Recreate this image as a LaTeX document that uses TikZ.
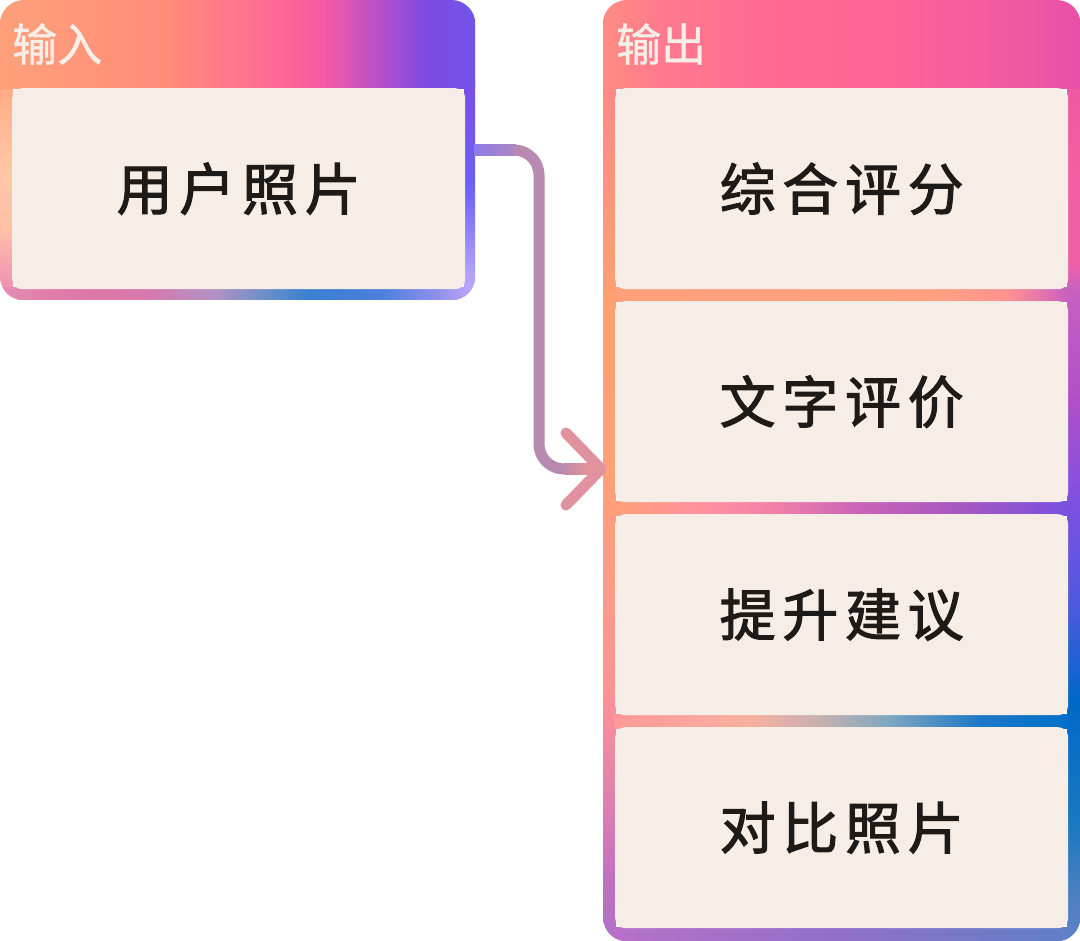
\documentclass[tikz,border=0pt]{standalone}
\usepackage{fontspec}
\usetikzlibrary{calc}
\newfontfamily\cjk[FakeBold=1]{Noto Sans CJK SC}
\newfontfamily\cjkbig[LetterSpace=12,FakeBold=2]{Noto Sans CJK SC}
% colours
\definecolor{boxc}{HTML}{F6EDE6}
\definecolor{ink}{HTML}{1E1A18}
\definecolor{hdrc}{HTML}{F8EEE8}
\definecolor{ar0}{HTML}{8E7AE8}
\definecolor{ar1}{HTML}{AE88C2}
\definecolor{ar2}{HTML}{B88AB2}
\definecolor{ar3}{HTML}{BE8AAE}
\definecolor{ar4}{HTML}{F69C86}
\definecolor{ar5}{HTML}{E0929E}
% left header
\definecolor{lhA}{HTML}{FFA07A}\definecolor{lhB}{HTML}{FF8C7A}\definecolor{lhC}{HTML}{FF6E92}
\definecolor{lhD}{HTML}{F65AA2}\definecolor{lhE}{HTML}{B650CC}\definecolor{lhF}{HTML}{7C4AE2}\definecolor{lhG}{HTML}{7254EA}
% left-left strip
\definecolor{llA}{HTML}{E888B0}\definecolor{llB}{HTML}{F4A0B0}\definecolor{llC}{HTML}{FFC0A8}
\definecolor{llD}{HTML}{FFC8A8}\definecolor{llE}{HTML}{FFB490}\definecolor{llF}{HTML}{FFA882}
% left-right strip
\definecolor{lrA}{HTML}{C0A8F8}\definecolor{lrB}{HTML}{B0A0F8}\definecolor{lrC}{HTML}{8C80F4}
\definecolor{lrD}{HTML}{6A62F2}\definecolor{lrE}{HTML}{7458E8}\definecolor{lrF}{HTML}{7850E4}
% left bottom
\definecolor{lbA}{HTML}{E490B4}\definecolor{lbB}{HTML}{E07AA8}\definecolor{lbC}{HTML}{D878AC}
\definecolor{lbD}{HTML}{B490C4}\definecolor{lbE}{HTML}{7090C8}\definecolor{lbF}{HTML}{3A80D0}
\definecolor{lbG}{HTML}{4A80DC}\definecolor{lbH}{HTML}{9090EC}\definecolor{lbI}{HTML}{C0A8F8}
% right header
\definecolor{rhA}{HTML}{FF8C84}\definecolor{rhB}{HTML}{FF7A8C}\definecolor{rhC}{HTML}{FF6C92}
\definecolor{rhD}{HTML}{FF6496}\definecolor{rhE}{HTML}{F45CA0}\definecolor{rhF}{HTML}{E850A8}
% right-left strip
\definecolor{rlA}{HTML}{B070C8}\definecolor{rlB}{HTML}{C070C0}\definecolor{rlC}{HTML}{E080B0}
\definecolor{rlD}{HTML}{FF9098}\definecolor{rlE}{HTML}{FF9A88}\definecolor{rlF}{HTML}{FFA078}
\definecolor{rlG}{HTML}{FFA070}\definecolor{rlH}{HTML}{FF9080}\definecolor{rlI}{HTML}{FF8088}
% right-right strip
\definecolor{rrA}{HTML}{6080C8}\definecolor{rrB}{HTML}{5080C0}\definecolor{rrC}{HTML}{1878C0}
\definecolor{rrD}{HTML}{0068C8}\definecolor{rrE}{HTML}{5058E0}\definecolor{rrF}{HTML}{8050E0}
\definecolor{rrG}{HTML}{B050C8}\definecolor{rrH}{HTML}{C860C0}\definecolor{rrI}{HTML}{F060A8}
\definecolor{rrJ}{HTML}{F060A0}\definecolor{rrK}{HTML}{E850A8}
% gaps
\definecolor{gaA}{HTML}{FFA07A}\definecolor{gaB}{HTML}{FFA080}\definecolor{gaC}{HTML}{FF9490}
\definecolor{gaD}{HTML}{E070B0}\definecolor{gaE}{HTML}{C860C0}
\definecolor{gbA}{HTML}{FFA078}\definecolor{gbB}{HTML}{FF90A0}\definecolor{gbC}{HTML}{F080A8}
\definecolor{gbD}{HTML}{C862B8}\definecolor{gbE}{HTML}{A858C0}\definecolor{gbF}{HTML}{7850E0}
\definecolor{gcA}{HTML}{FF9898}\definecolor{gcB}{HTML}{F8B0A0}\definecolor{gcC}{HTML}{C8B0B0}
\definecolor{gcD}{HTML}{80A8C0}\definecolor{gcE}{HTML}{2078C8}\definecolor{gcF}{HTML}{0070C8}
\definecolor{gdA}{HTML}{B870C8}\definecolor{gdB}{HTML}{9070C8}\definecolor{gdC}{HTML}{6080C8}
% shadings (path bbox = 25bp..75bp)
\pgfdeclarehorizontalshading{lhead}{100bp}{color(0bp)=(lhA); color(25bp)=(lhA); color(42.5bp)=(lhB); color(52.5bp)=(lhC); color(59bp)=(lhD); color(65bp)=(lhE); color(70bp)=(lhF); color(75bp)=(lhG); color(100bp)=(lhG)}
\pgfdeclareverticalshading{lleft}{100bp}{color(0bp)=(llA); color(25bp)=(llA); color(32bp)=(llB); color(41.5bp)=(llC); color(53.5bp)=(llD); color(67.5bp)=(llE); color(75bp)=(llF); color(100bp)=(llF)}
\pgfdeclareverticalshading{lright}{100bp}{color(0bp)=(lrA); color(25bp)=(lrA); color(32bp)=(lrB); color(41.5bp)=(lrC); color(51bp)=(lrD); color(62.5bp)=(lrE); color(75bp)=(lrF); color(100bp)=(lrF)}
\pgfdeclarehorizontalshading{lbot}{100bp}{color(0bp)=(lbA); color(25bp)=(lbA); color(31bp)=(lbB); color(40bp)=(lbC); color(47.5bp)=(lbD); color(52.5bp)=(lbE); color(57.5bp)=(lbF); color(65bp)=(lbG); color(71bp)=(lbH); color(75bp)=(lbI); color(100bp)=(lbI)}
\pgfdeclarehorizontalshading{rhead}{100bp}{color(0bp)=(rhA); color(25bp)=(rhA); color(31bp)=(rhB); color(40bp)=(rhC); color(55bp)=(rhD); color(65bp)=(rhE); color(75bp)=(rhF); color(100bp)=(rhF)}
\pgfdeclareverticalshading{rleft}{100bp}{color(0bp)=(rlA); color(25bp)=(rlA); color(28.25bp)=(rlB); color(32.5bp)=(rlC); color(37.8bp)=(rlD); color(43.1bp)=(rlE); color(50bp)=(rlF); color(59bp)=(rlG); color(67bp)=(rlH); color(75bp)=(rlI); color(100bp)=(rlI)}
\pgfdeclareverticalshading{rright}{100bp}{color(0bp)=(rrA); color(25bp)=(rrA); color(27.2bp)=(rrB); color(31.45bp)=(rrC); color(37.8bp)=(rrD); color(43.1bp)=(rrE); color(48.45bp)=(rrF); color(53.75bp)=(rrG); color(59.6bp)=(rrH); color(61bp)=(rrI); color(67bp)=(rrJ); color(75bp)=(rrK); color(100bp)=(rrK)}
\pgfdeclarehorizontalshading{gapa}{100bp}{color(0bp)=(gaA); color(25bp)=(gaA); color(60bp)=(gaB); color(68bp)=(gaC); color(72.5bp)=(gaD); color(75bp)=(gaE); color(100bp)=(gaE)}
\pgfdeclarehorizontalshading{gapb}{100bp}{color(0bp)=(gbA); color(25bp)=(gbA); color(35bp)=(gbB); color(42.5bp)=(gbC); color(52.5bp)=(gbD); color(62.5bp)=(gbE); color(75bp)=(gbF); color(100bp)=(gbF)}
\pgfdeclarehorizontalshading{gapc}{100bp}{color(0bp)=(gcA); color(25bp)=(gcA); color(40bp)=(gcB); color(47.5bp)=(gcC); color(55bp)=(gcD); color(65bp)=(gcE); color(75bp)=(gcF); color(100bp)=(gcF)}
\pgfdeclarehorizontalshading{gapd}{100bp}{color(0bp)=(gdA); color(25bp)=(gdA); color(50bp)=(gdB); color(75bp)=(gdC); color(100bp)=(gdC)}
\tikzset{
  frame/.style={inner sep=0pt, anchor=north west},
  itembox/.style={fill=boxc, rounded corners=10pt, inner sep=0pt, minimum width=453pt, minimum height=201pt, anchor=north west, text=ink, font=\cjkbig\fontsize{56}{60}\selectfont},
  hdr/.style={anchor=west, inner sep=0pt, text=hdrc, font=\cjk\fontsize{45}{50}\selectfont},
  conn/.style={line width=11pt}
}
\begin{document}
\begin{tikzpicture}[x=1pt,y=-1pt]
\useasboundingbox (0,0) rectangle (1080,941);
\node[frame, minimum width=475pt, minimum height=300pt] (inC) at (0,0) {};
\node[frame, minimum width=477pt, minimum height=941pt] (outC) at (603,0) {};
% input container
\begin{scope}
\clip[rounded corners=24pt] (inC.north west) rectangle (inC.south east);
\shade[shading=lleft] (0,80) rectangle (13,300);
\shade[shading=lright] (464,80) rectangle (475,300);
\shade[shading=lbot] (0,288) rectangle (475,300);
\shade[shading=lhead] (0,0) rectangle (475,89);
\end{scope}
% output container
\begin{scope}
\clip[rounded corners=24pt] (outC.north west) rectangle (outC.south east);
\shade[shading=rleft] (603,0) rectangle (616,941);
\shade[shading=rright] (1067,0) rectangle (1080,941);
\shade[shading=rhead] (603,0) rectangle (1080,89);
\shade[shading=gapa] (614,288) rectangle (1069,302);
\shade[shading=gapb] (614,501) rectangle (1069,515);
\shade[shading=gapc] (614,714) rectangle (1069,728);
\shade[shading=gapd] (614,927) rectangle (1069,941);
\end{scope}
% headers
\node[hdr] (inL) at (12,44) {输入};
\node[hdr] (outL) at (616,44) {输出};
% boxes
\node[itembox] (photo) at (12,88) {用户照片};
\node[itembox] (score) at (615,88) {综合评分};
\node[itembox] (review) at (615,301) {文字评价};
\node[itembox] (advice) at (615,514) {提升建议};
\node[itembox] (compare) at (615,727) {对比照片};
% connector
\coordinate (s) at (475,150);
\coordinate (k1) at (539,150);
\coordinate (k2) at (539,469);
\coordinate (t) at (601,469);
\shade[left color=ar0, right color=ar1] ($(s)+(-1,-5.5)$) rectangle ($(k1)+(-23,5.5)$);
\draw[conn, ar2, rounded corners=25pt] ($(k1)+(-25,0)$) -- (k1) -- (k2) -- ($(k2)+(26,0)$);
\shade[left color=ar3, right color=ar4] ($(k2)+(25,-5.5)$) rectangle ($(t)+(0,5.5)$);
\draw[conn, ar5, line cap=round, line join=round] ($(t)+(-35,-36)$) -- (t) -- ($(t)+(-35,36)$);
\end{tikzpicture}
\end{document}
